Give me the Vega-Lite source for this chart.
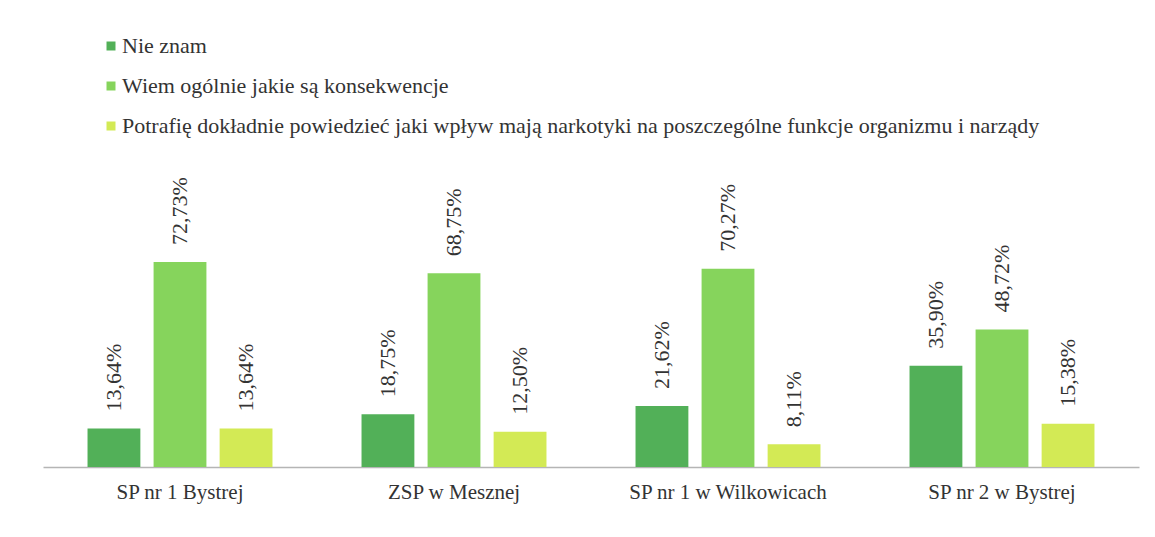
{
  "$schema": "https://vega.github.io/schema/vega-lite/v6.json",
  "autosize": {"type": "none"},
  "width": 1096,
  "height": 282,
  "padding": {"left": 43, "top": 185, "right": 16, "bottom": 70},
  "background": "white",
  "config": {
    "locale": {"number": {"decimal": ",", "thousands": " ", "grouping": [3], "currency": ["", " zł"]}},
    "view": {"stroke": null},
    "font": "Liberation Serif"
  },
  "data": {
    "values": [
      {"szkola": "SP nr 1 Bystrej", "odp": "Nie znam", "v": 0.1364},
      {"szkola": "SP nr 1 Bystrej", "odp": "Wiem ogólnie jakie są konsekwencje", "v": 0.7273},
      {"szkola": "SP nr 1 Bystrej", "odp": "Potrafię dokładnie powiedzieć jaki wpływ mają narkotyki na poszczególne funkcje organizmu i narządy", "v": 0.1364},
      {"szkola": "ZSP w Mesznej", "odp": "Nie znam", "v": 0.1875},
      {"szkola": "ZSP w Mesznej", "odp": "Wiem ogólnie jakie są konsekwencje", "v": 0.6875},
      {"szkola": "ZSP w Mesznej", "odp": "Potrafię dokładnie powiedzieć jaki wpływ mają narkotyki na poszczególne funkcje organizmu i narządy", "v": 0.125},
      {"szkola": "SP nr 1 w Wilkowicach", "odp": "Nie znam", "v": 0.2162},
      {"szkola": "SP nr 1 w Wilkowicach", "odp": "Wiem ogólnie jakie są konsekwencje", "v": 0.7027},
      {"szkola": "SP nr 1 w Wilkowicach", "odp": "Potrafię dokładnie powiedzieć jaki wpływ mają narkotyki na poszczególne funkcje organizmu i narządy", "v": 0.0811},
      {"szkola": "SP nr 2 w Bystrej", "odp": "Nie znam", "v": 0.359},
      {"szkola": "SP nr 2 w Bystrej", "odp": "Wiem ogólnie jakie są konsekwencje", "v": 0.4872},
      {"szkola": "SP nr 2 w Bystrej", "odp": "Potrafię dokładnie powiedzieć jaki wpływ mają narkotyki na poszczególne funkcje organizmu i narządy", "v": 0.1538}
    ]
  },
  "encoding": {
    "x": {
      "field": "szkola", "type": "nominal", "sort": null,
      "scale": {"paddingInner": 0.325, "paddingOuter": 0.1625},
      "axis": {"title": null, "labelAngle": 0, "ticks": false, "domainColor": "#b5b5b5", "domainWidth": 1.5, "labelFontSize": 21, "labelColor": "#333333", "labelPadding": 14, "labelLimit": 400, "labelFont": "Liberation Serif"}
    },
    "xOffset": {
      "field": "odp", "type": "nominal",
      "sort": ["Nie znam", "Wiem ogólnie jakie są konsekwencje", "Potrafię dokładnie powiedzieć jaki wpływ mają narkotyki na poszczególne funkcje organizmu i narządy"],
      "scale": {"paddingInner": 0.2, "paddingOuter": 0}
    },
    "y": {
      "field": "v", "type": "quantitative",
      "scale": {"domain": [0, 1]},
      "axis": null
    }
  },
  "layer": [
    {
      "mark": {"type": "bar"},
      "encoding": {
        "color": {
          "field": "odp", "type": "nominal",
          "scale": {
            "domain": ["Nie znam", "Wiem ogólnie jakie są konsekwencje", "Potrafię dokładnie powiedzieć jaki wpływ mają narkotyki na poszczególne funkcje organizmu i narządy"],
            "range": ["#52b058", "#86d45c", "#d3ea55"]
          },
          "legend": {
            "title": null, "orient": "none", "legendX": 57, "legendY": -150,
            "direction": "vertical", "symbolType": "square", "symbolSize": 81,
            "labelFontSize": 22, "labelColor": "#333333", "labelFont": "Liberation Serif",
            "rowPadding": 18, "labelOffset": 0, "labelLimit": 1100
          }
        }
      }
    },
    {
      "mark": {"type": "text", "angle": 270, "align": "left", "baseline": "middle", "dx": 17, "fontSize": 22, "color": "#333333", "font": "Liberation Serif"},
      "encoding": {
        "text": {"field": "v", "type": "quantitative", "format": ".2%"}
      }
    }
  ]
}
